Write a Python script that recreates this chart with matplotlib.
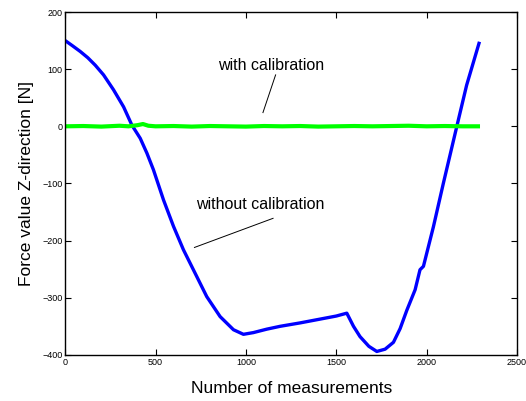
import numpy as np
from matplotlib import pyplot as plt

plt.rcParams['font.family'] = ['Liberation Sans', 'DejaVu Sans']

# blue curve: without calibration
x_raw = [0, 40, 83, 125, 166, 212, 267, 323, 369, 415, 452, 488, 544, 599, 654, 728, 783, 857,
         931, 986, 1041, 1115, 1189, 1300, 1400, 1500, 1558, 1595, 1631, 1680, 1724, 1770, 1816,
         1853, 1890, 1936, 1963, 1982, 2037, 2092, 2166, 2221, 2292]
y_raw = [150, 141, 131, 120, 107, 90, 64, 34, 2, -21, -47, -76, -129, -175, -216, -263, -298, -333,
         -356, -364, -361, -355, -350, -344, -338, -332, -327, -350, -368, -385, -394, -390, -378,
         -354, -322, -286, -251, -245, -176, -100, -1, 72, 148]

# green curve: with calibration, small jitter around zero
x_cal = [0, 100, 200, 300, 350, 400, 430, 460, 500, 600, 700, 800, 900, 1000, 1100, 1200, 1300,
         1400, 1500, 1600, 1700, 1800, 1900, 2000, 2100, 2200, 2295]
y_cal = [0, 0.5, -0.5, 1, 0, 2, 4, 1, 0, 0.5, -0.5, 0.5, 0, -0.5, 0.5, 0, 0.5, -0.5, 0, 0.5, 0,
         0.5, 1, 0, 0.5, 0, 0]

fig = plt.figure(figsize=(5.26, 4.01), dpi=100)
ax = fig.add_axes([0.124, 0.115, 0.859, 0.855])

ax.plot(x_raw, y_raw, color='#0000ff', linewidth=2.4, solid_capstyle='butt')
ax.plot(x_cal, y_cal, color='#00ff00', linewidth=3.0, solid_capstyle='butt')

ax.set_xlim(0, 2500)
ax.set_ylim(-400, 200)
ax.set_xticks([0, 500, 1000, 1500, 2000, 2500])
ax.set_yticks([-400, -300, -200, -100, 0, 100, 200])
ax.tick_params(direction='in', labelsize=6.5, length=4, width=0.8,
               top=True, right=True, pad=2)
for s in ax.spines.values():
    s.set_linewidth(1.0)

ax.set_xlabel('Number of measurements', fontsize=12.5, labelpad=10)
ax.set_ylabel('Force value Z-direction [N]', fontsize=12.5, labelpad=6)

ax.text(1140, 107, 'with calibration', fontsize=11.5, ha='center', va='center')
ax.plot([1164, 1094], [90, 24], color='black', linewidth=0.7)
ax.text(1078, -136, 'without calibration', fontsize=11.5, ha='center', va='center')
ax.plot([1150, 715], [-161, -212], color='black', linewidth=0.7)

fig.savefig('out.png', dpi=100)
